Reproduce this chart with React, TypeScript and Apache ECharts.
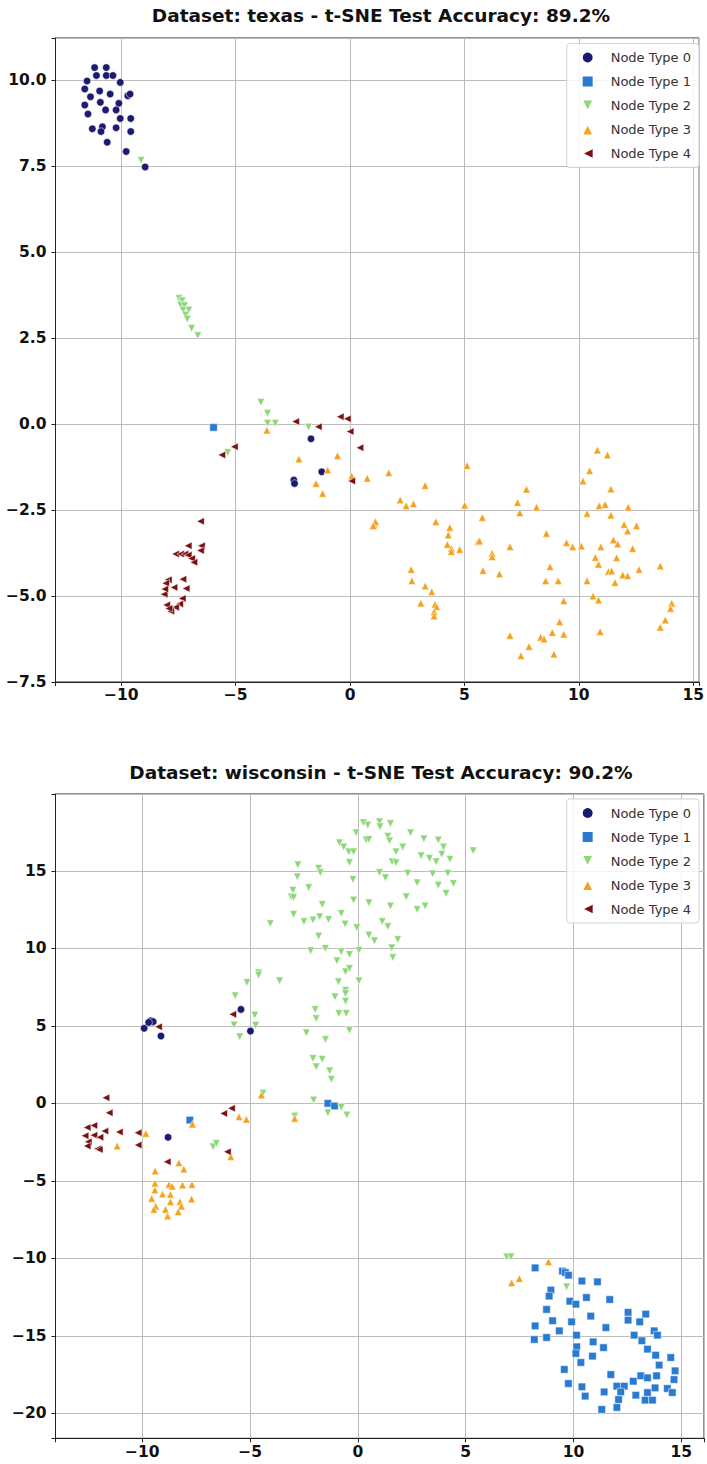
import React, { useEffect, useRef } from "react";
import * as echarts from "echarts";

// ---- texas embedding (t-SNE coordinates per node type) ----
const texasType0: [number, number][] = [
  [-11.17, 10.36], [-10.66, 10.36], [-11.09, 10.13], [-10.66, 10.13], [-10.37, 10.13],
  [-11.5, 9.97], [-10.05, 9.93], [-11.6, 9.74], [-10.95, 9.68], [-10.49, 9.59],
  [-9.72, 9.54], [-9.62, 9.59], [-11.35, 9.51], [-10.92, 9.35], [-10.11, 9.32],
  [-11.6, 9.27], [-10.69, 9.13], [-10.23, 9.13], [-11.46, 9.01], [-10.05, 8.88],
  [-9.59, 8.88], [-11.27, 8.58], [-10.83, 8.64], [-10.89, 8.5], [-10.23, 8.61],
  [-9.59, 8.5], [-10.62, 8.19], [-9.79, 7.92], [-8.96, 7.47],
  [-1.71, -0.43], [-1.24, -1.39], [-2.46, -1.63], [-2.43, -1.73],
];
const texasType1: [number, number][] = [[-5.97, -0.1]];
const texasType2: [number, number][] = [
  [-9.14, 7.67], [-7.48, 3.65], [-7.34, 3.58], [-7.41, 3.46], [-7.24, 3.44],
  [-7.05, 3.31], [-7.3, 3.31], [-7.19, 3.17], [-7.12, 3.05], [-6.93, 2.78],
  [-6.66, 2.57], [-3.9, 0.63], [-3.61, 0.31], [-3.61, 0.02], [-3.27, 0.02],
  [-1.82, -0.09], [-5.35, -0.83],
];
const texasType3: [number, number][] = [
  [-3.64, -0.18], [-2.24, -1.02], [-0.55, -0.92], [-0.98, -1.34], [-1.49, -1.73],
  [-1.2, -2.02], [0.07, -1.51], [0.75, -1.58], [1.69, -1.42], [3.28, -1.79],
  [5.11, -1.21], [2.19, -2.21], [2.45, -2.38], [2.77, -2.32], [1.04, -2.91],
  [1.11, -2.84], [1.01, -2.96], [3.75, -2.84], [4.36, -3.01], [4.29, -3.23],
  [4.25, -3.5], [4.43, -3.62], [4.43, -3.71], [4.79, -3.65], [5.01, -2.36],
  [5.78, -2.72], [5.59, -3.42], [5.66, -3.4], [6.21, -3.76], [6.21, -3.86],
  [6.99, -3.57], [5.81, -4.26], [6.53, -4.36], [2.67, -4.23], [2.7, -4.56],
  [3.28, -4.71], [3.57, -4.88], [3.09, -5.21], [3.71, -5.24], [3.78, -5.31],
  [3.67, -5.46], [3.67, -5.58], [7.71, -1.9], [7.32, -2.28], [7.42, -2.58],
  [8.15, -2.42], [8.58, -3.18], [8.74, -4.15], [8.55, -4.56], [9.1, -4.56],
  [9.46, -3.45], [9.73, -3.57], [10.11, -3.55], [9.34, -5.14], [9.16, -5.75],
  [8.84, -6.06], [9.34, -6.11], [8.33, -6.2], [8.48, -6.25], [6.99, -6.15],
  [7.82, -6.47], [7.47, -6.74], [8.91, -6.69], [10.81, -0.76], [11.25, -0.9],
  [10.47, -1.36], [10.18, -1.66], [11.4, -1.89], [10.89, -2.38], [11.15, -2.34],
  [10.36, -2.6], [11.4, -2.65], [12.16, -2.42], [11.98, -2.92], [12.52, -2.96],
  [12.13, -3.11], [11.51, -3.37], [11.7, -3.49], [10.96, -3.57], [12.35, -3.62],
  [10.72, -3.88], [10.86, -4.08], [11.65, -3.89], [11.29, -4.29], [11.43, -4.27],
  [10.36, -4.56], [11.58, -4.61], [11.92, -4.39], [12.13, -4.41], [12.63, -4.23],
  [13.56, -4.13], [10.62, -5.0], [10.86, -5.12], [10.93, -6.04], [14.06, -5.21],
  [14.01, -5.36], [13.78, -5.7], [13.56, -5.91],
];
const texasType4: [number, number][] = [
  [-2.38, 0.07], [-1.39, -0.08], [-0.43, 0.21], [-0.12, 0.15], [0.0, -0.22],
  [0.43, -0.69], [0.07, -1.66], [-5.06, -0.66], [-5.61, -0.9], [-6.54, -2.83],
  [-7.08, -3.54], [-6.5, -3.54], [-6.54, -3.68], [-7.63, -3.78], [-7.41, -3.78],
  [-7.22, -3.78], [-7.08, -3.81], [-6.93, -3.91], [-6.83, -4.02], [-7.31, -4.51],
  [-7.95, -4.53], [-8.06, -4.63], [-7.7, -4.75], [-7.17, -4.78], [-8.13, -4.95],
  [-7.34, -5.07], [-7.45, -5.23], [-8.02, -5.26], [-7.63, -5.33], [-7.84, -5.44],
  [-8.1, -4.8], [-7.92, -5.36],
];

// ---- wisconsin embedding ----
const wiscType0: [number, number][] = [
  [-9.91, 4.84], [-9.6, 5.33], [-9.49, 5.27], [-9.7, 5.22], [-9.13, 4.34],
  [-5.42, 6.06], [-4.98, 4.66], [-8.8, -2.19],
];
const wiscType1: [number, number][] = [
  [-1.39, 0.0], [-1.08, -0.17], [-7.79, -1.08],
  [8.22, -10.61], [9.49, -10.82], [9.62, -10.91], [9.77, -11.08], [10.39, -11.46],
  [11.11, -11.51], [8.95, -12.04], [8.87, -12.43], [10.6, -12.52], [11.68, -12.65],
  [8.75, -13.29], [9.83, -12.76], [10.11, -12.95], [10.8, -13.72], [12.53, -13.48],
  [12.53, -13.98], [13.35, -13.59], [13.07, -14.09], [9.03, -14.02], [9.91, -14.09],
  [8.22, -14.35], [11.5, -14.46], [9.34, -14.67], [13.74, -14.67], [13.89, -14.95],
  [8.18, -15.23], [8.75, -15.1], [10.14, -14.95], [12.81, -14.95], [13.17, -15.31],
  [10.91, -15.38], [10.15, -15.7], [10.11, -16.13], [11.39, -15.75], [13.43, -15.85],
  [10.88, -16.3], [13.81, -16.24], [14.51, -16.39], [10.34, -16.71], [13.97, -16.88],
  [9.57, -17.16], [14.71, -17.25], [14.66, -17.81], [11.73, -17.49], [12.77, -17.92],
  [13.12, -17.57], [13.43, -17.7], [13.85, -17.57], [9.76, -18.07], [10.39, -18.28],
  [12.01, -18.24], [12.35, -18.24], [12.19, -18.61], [11.42, -18.61], [12.89, -18.82],
  [13.43, -18.65], [13.78, -18.35], [14.35, -18.39], [14.58, -18.65], [10.54, -18.88],
  [12.09, -19.1], [13.32, -19.14], [13.66, -19.14], [12.01, -19.61], [11.31, -19.74],
];
const wiscType2: [number, number][] = [
  [0.26, 18.1], [0.46, 17.95], [1.0, 18.16], [1.03, 17.84], [1.51, 18.05],
  [-0.08, 17.45], [0.39, 16.98], [0.51, 17.02], [1.39, 17.23], [1.47, 16.93],
  [2.44, 17.45], [3.06, 17.06], [3.73, 16.98], [3.97, 16.54], [-0.85, 16.8],
  [-0.66, 16.54], [-0.42, 16.22], [-0.2, 16.22], [1.77, 16.22], [2.08, 16.54],
  [2.93, 15.97], [3.32, 15.8], [3.63, 15.58], [4.27, 15.75], [3.89, 16.07],
  [5.35, 16.29], [-0.39, 15.54], [1.59, 15.58], [1.77, 15.52], [-2.78, 15.38],
  [-1.82, 15.16], [-1.74, 14.88], [2.31, 14.84], [3.47, 14.8], [4.17, 14.84],
  [1.0, 14.88], [1.28, 14.55], [-2.81, 14.61], [-0.23, 14.44], [-2.28, 13.92],
  [-3.01, 13.75], [-3.09, 13.33], [-2.98, 13.28], [2.75, 14.22], [3.73, 14.07],
  [4.43, 14.18], [4.09, 13.54], [2.24, 13.32], [-0.2, 13.11], [0.51, 12.94],
  [1.51, 12.73], [-1.65, 12.83], [2.75, 12.5], [3.12, 12.73], [-2.98, 12.19],
  [-0.77, 12.25], [-2.5, 11.72], [-2.08, 11.83], [-1.77, 12.04], [-1.36, 11.86],
  [-4.06, 11.6], [-0.59, 11.56], [-0.05, 11.34], [1.13, 11.72], [1.39, 11.4],
  [-1.82, 10.79], [0.51, 10.85], [0.77, 10.48], [1.85, 10.57], [-2.19, 9.84],
  [-1.51, 9.99], [-0.77, 9.78], [-0.39, 9.6], [0.05, 9.88], [1.57, 10.03],
  [1.62, 9.41], [-0.97, 9.19], [-0.57, 8.48], [-0.39, 8.7], [-4.6, 8.42],
  [-4.6, 8.27], [-5.14, 7.8], [-3.63, 7.9], [-0.9, 7.84], [0.05, 7.9],
  [-0.57, 7.3], [-0.57, 7.09], [-0.57, 6.59], [-1.06, 6.87], [-1.98, 6.05],
  [-1.93, 5.47], [-0.88, 5.8], [-0.54, 5.8], [-4.78, 5.69], [-4.74, 5.04],
  [-2.39, 4.55], [-1.5, 4.12], [-0.39, 4.72], [-5.69, 6.94], [-5.74, 5.05],
  [-5.48, 4.3], [-2.08, 2.9], [-1.65, 2.84], [-1.93, 2.36], [-1.31, 2.1],
  [-1.23, 1.55], [-2.05, 0.21], [-1.39, -0.61], [-0.77, -0.26], [-0.51, -0.75],
  [-2.93, -0.82], [-4.4, 0.65], [-6.71, -2.8], [-6.56, -2.58], [6.9, -9.9],
  [7.1, -9.9], [9.68, -11.83],
];
const wiscType3: [number, number][] = [
  [-4.47, 0.54], [-2.93, -0.97], [-5.51, -0.86], [-5.17, -1.03], [-7.67, -1.34],
  [-5.89, -3.44], [-9.83, -1.94], [-11.16, -2.75],
  [-8.3, -3.83], [-8.07, -4.24], [-9.4, -4.37], [-9.41, -5.16], [-8.76, -5.23],
  [-8.61, -5.34], [-8.13, -5.27], [-7.69, -5.23], [-9.41, -5.59], [-9.06, -5.85],
  [-8.69, -5.87], [-9.56, -6.13], [-7.71, -6.17], [-8.69, -6.35], [-8.25, -6.35],
  [-8.18, -6.63], [-9.37, -6.63], [-9.46, -6.84], [-8.92, -6.84], [-8.33, -6.99],
  [-8.82, -7.27], [8.84, -10.22], [7.13, -11.57], [7.49, -11.3],
];
const wiscType4: [number, number][] = [
  [-9.24, 4.94], [-5.8, 5.74], [-6.22, -0.65], [-5.86, -0.32], [-6.05, -3.12],
  [-8.84, -3.77], [-11.68, 0.36], [-11.53, -0.61], [-12.55, -1.55], [-12.24, -1.42],
  [-11.73, -1.79], [-11.06, -1.85], [-10.19, -1.89], [-12.65, -2.09], [-12.24, -2.05],
  [-11.96, -2.19], [-12.5, -2.48], [-12.55, -2.75], [-12.07, -2.93], [-11.99, -2.97],
  [-10.19, -2.69],
];

const typeNames = ["Node Type 0", "Node Type 1", "Node Type 2", "Node Type 3", "Node Type 4"];
const typeColors = ["#1b1b72", "#2a7ad2", "#8cd878", "#f5a21e", "#7c1010"];
const typeSymbols = [
  "circle",
  "rect",
  "path://M0,0L10,0L5,10Z",
  "path://M5,0L10,10L0,10Z",
  "path://M0,5L10,0L10,10Z",
];
const titles = [
  "Dataset: texas - t-SNE Test Accuracy: 89.2%",
  "Dataset: wisconsin - t-SNE Test Accuracy: 90.2%",
];
const texasSets = [texasType0, texasType1, texasType2, texasType3, texasType4];
const wiscSets = [wiscType0, wiscType1, wiscType2, wiscType3, wiscType4];

const FONT = '"DejaVu Sans", sans-serif';
const minus = (s: string) => s.replace("-", "\u2212");
const isMultiple = (v: number, step: number) => Math.abs(v / step - Math.round(v / step)) < 1e-6;

function axisCommon() {
  return {
    type: "value" as const,
    axisLine: { show: true, onZero: false, lineStyle: { color: "#222", width: 1 } },
    axisTick: { show: true, inside: false, length: 4, lineStyle: { color: "#222", width: 1 } },
    splitLine: { show: true, lineStyle: { color: "#bdbdbd", width: 1 } },
  };
}

function labelStyle(step: number, digits: number, margin: number) {
  return {
    fontFamily: FONT,
    fontWeight: "bold" as const,
    fontSize: 15.5,
    color: "#111",
    margin,
    showMinLabel: true,
    showMaxLabel: true,
    formatter: (v: number) => (isMultiple(v, step) ? minus(v.toFixed(digits)) : ""),
  };
}

export default function App() {
  const ref = useRef<HTMLDivElement>(null);

  useEffect(() => {
    document.body.style.margin = "0";
    if (!ref.current) return;
    const chart = echarts.init(ref.current, null, { renderer: "svg" });

    const series: any[] = [];
    [texasSets, wiscSets].forEach((sets, gi) => {
      sets.forEach((pts, k) => {
        series.push({
          type: "scatter",
          name: typeNames[k],
          xAxisIndex: gi,
          yAxisIndex: gi,
          data: pts,
          symbol: typeSymbols[k],
          symbolSize: 7.5,
          itemStyle: { color: typeColors[k], borderColor: "#ffffff", borderWidth: 0.5, opacity: 1 },
          emphasis: { disabled: true },
        });
      });
    });

    const legendBase = {
      orient: "vertical" as const,
      right: 8,
      itemWidth: 12,
      itemHeight: 12,
      itemGap: 10,
      padding: [7, 8, 7, 14],
      backgroundColor: "rgba(255,255,255,0.85)",
      borderColor: "#d4d4d4",
      borderWidth: 1,
      borderRadius: 3,
      data: typeNames,
      textStyle: { fontFamily: FONT, fontSize: 13, color: "#333", padding: [0, 0, 0, 12] },
    };

    chart.setOption({
      animation: false,
      grid: [
        { left: 55.5, right: 2, top: 38, height: 644, show: true, borderColor: "#222", borderWidth: 1, backgroundColor: "#fff" },
        { left: 55.5, right: 2, top: 794, height: 644.3, show: true, borderColor: "#222", borderWidth: 1, backgroundColor: "#fff" },
      ],
      xAxis: [
        { ...axisCommon(), gridIndex: 0, min: -12.88, max: 15.26, splitNumber: 5, axisLabel: labelStyle(5, 0, 5) },
        { ...axisCommon(), gridIndex: 1, min: -14.02, max: 16.05, splitNumber: 5, axisLabel: labelStyle(5, 0, 6) },
      ],
      yAxis: [
        { ...axisCommon(), gridIndex: 0, min: -7.5, max: 11.22, interval: 2.5, axisLabel: labelStyle(2.5, 1, 9) },
        { ...axisCommon(), gridIndex: 1, min: -21.6, max: 19.95, splitNumber: 8, axisLabel: labelStyle(5, 0, 9) },
      ],
      legend: [
        { ...legendBase, top: 43.5 },
        { ...legendBase, top: 799 },
      ],
      graphic: titles.map((t, i) => ({
        type: "text",
        x: 381,
        y: i === 0 ? 15 : 772,
        style: {
          text: t,
          font: `bold 18.5px ${FONT}`,
          fill: "#111",
          textAlign: "center",
          textVerticalAlign: "middle",
        },
      })),
      series,
    });

    return () => chart.dispose();
  }, []);

  return <div ref={ref} style={{ width: 707, height: 1464 }} />;
}
